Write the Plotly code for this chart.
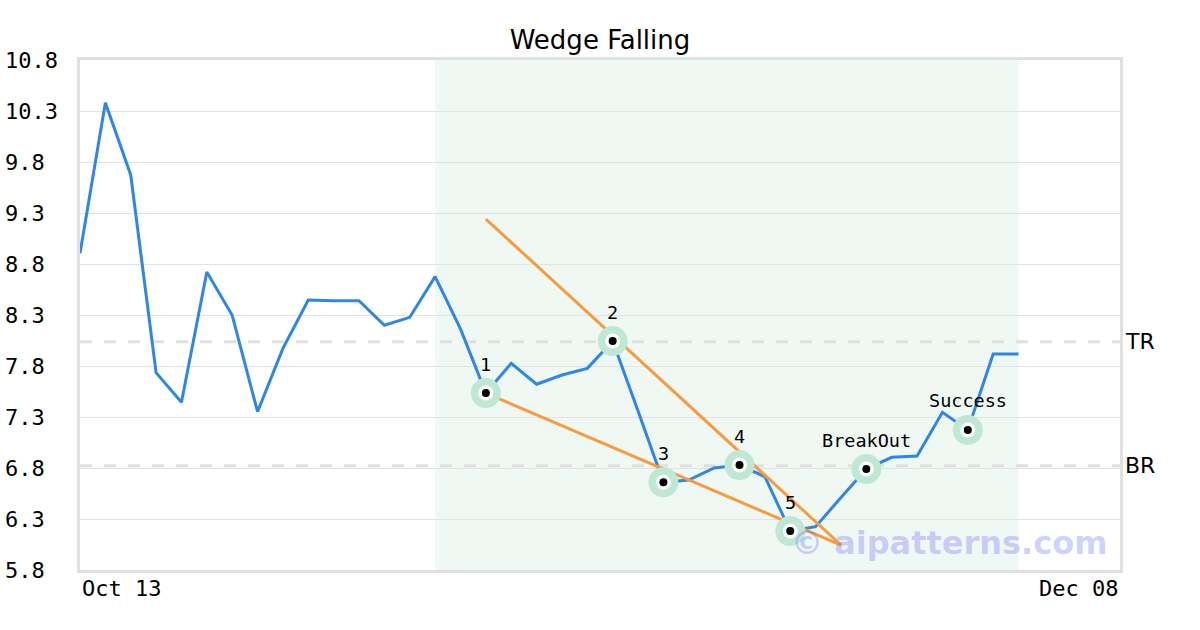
import plotly.graph_objects as go

# ---- data ----
x_start_label = "Oct 13"
x_end_label = "Dec 08"
n_slots = 41  # x axis spans index 0..41

price = [8.905, 10.381, 9.673, 7.734, 7.444, 8.722, 8.297, 7.352, 7.973, 8.447,
         8.440, 8.440, 8.199, 8.277, 8.676, 8.163, 7.535, 7.826, 7.621, 7.712,
         7.777, 8.045, 7.359, 6.660, 6.682, 6.800, 6.829, 6.715, 6.182, 6.225,
         6.510, 6.790, 6.905, 6.918, 7.346, 7.173, 7.918, 7.918]
idx = list(range(len(price)))

pattern_start, pattern_end = 14, 37

upper_x = [16, 30]
upper_y = [9.241, 6.045]
lower_x = [16, 30]
lower_y = [7.535, 6.045]

point_idx = [16, 21, 23, 26, 28, 31, 35]
point_labels = ["1", "2", "3", "4", "5", "BreakOut", "Success"]

tr_level = 8.038
br_level = 6.822

y_ticks = [5.8, 6.3, 6.8, 7.3, 7.8, 8.3, 8.8, 9.3, 9.8, 10.3, 10.8]
y_min, y_max = 5.8, 10.8

MONO = "DejaVu Sans Mono"
SANS = "DejaVu Sans"

fig = go.Figure()

# price line
fig.add_trace(go.Scatter(x=idx, y=price, mode="lines",
                         line=dict(color="#2e86e8", width=3), hoverinfo="skip"))
# wedge lines
fig.add_trace(go.Scatter(x=upper_x, y=upper_y, mode="lines",
                         line=dict(color="#f89a3e", width=3), hoverinfo="skip"))
fig.add_trace(go.Scatter(x=lower_x, y=lower_y, mode="lines",
                         line=dict(color="#f89a3e", width=3), hoverinfo="skip"))

px_ = point_idx
py_ = [price[i] for i in point_idx]
fig.add_trace(go.Scatter(x=px_, y=py_, mode="markers",
                         marker=dict(size=30, color="#bfe8d4", line=dict(width=0)),
                         hoverinfo="skip"))
fig.add_trace(go.Scatter(x=px_, y=py_, mode="markers",
                         marker=dict(size=15, color="white", line=dict(width=0)),
                         hoverinfo="skip"))
fig.add_trace(go.Scatter(x=px_, y=py_, mode="markers",
                         marker=dict(size=8, color="black", line=dict(width=0)),
                         hoverinfo="skip"))

shapes = [
    dict(type="rect", xref="x", yref="paper", x0=pattern_start, x1=pattern_end,
         y0=0, y1=1, fillcolor="#f0f8f4", line=dict(width=0), layer="below"),
    dict(type="line", xref="paper", yref="y", x0=0, x1=1, y0=tr_level, y1=tr_level,
         line=dict(color="#e0e0e0", width=3, dash="12px,12px"), layer="between"),
    dict(type="line", xref="paper", yref="y", x0=0, x1=1, y0=br_level, y1=br_level,
         line=dict(color="#e0e0e0", width=3, dash="12px,12px"), layer="between"),
]

annotations = []
for i, lab in zip(point_idx, point_labels):
    annotations.append(dict(x=i, y=price[i], xref="x", yref="y", text=lab,
                            showarrow=False, yshift=29, yanchor="middle",
                            font=dict(family=MONO, size=18.5, color="black")))
for t in y_ticks:
    annotations.append(dict(x=0, y=t, xref="paper", yref="y", text=f"{t:g}",
                            showarrow=False, xanchor="left", yanchor="middle",
                            xshift=-77, font=dict(family=MONO, size=22, color="black")))
annotations.append(dict(x=0, y=0, xref="paper", yref="paper", text=x_start_label,
                        showarrow=False, xanchor="left", yanchor="middle", yshift=-18,
                        font=dict(family=MONO, size=22, color="black")))
annotations.append(dict(x=1, y=0, xref="paper", yref="paper", text=x_end_label,
                        showarrow=False, xanchor="right", yanchor="middle", yshift=-18,
                        font=dict(family=MONO, size=22, color="black")))
annotations.append(dict(x=1, y=tr_level, xref="paper", yref="y", text="TR",
                        showarrow=False, xanchor="left", yanchor="middle", xshift=3,
                        font=dict(family=SANS, size=22, color="black")))
annotations.append(dict(x=1, y=br_level, xref="paper", yref="y", text="BR",
                        showarrow=False, xanchor="left", yanchor="middle", xshift=3,
                        font=dict(family=SANS, size=22, color="black")))
annotations.append(dict(x=0.99, y=0.053, xref="paper", yref="paper",
                        text="<b>© aipatterns.com</b>", showarrow=False,
                        xanchor="right", yanchor="middle",
                        font=dict(family=SANS, size=32, color="rgba(110,110,255,0.33)")))

fig.update_layout(
    width=1200, height=630,
    margin=dict(l=80, r=80, t=60, b=60),
    paper_bgcolor="white", plot_bgcolor="white",
    showlegend=False,
    title=dict(text="Wedge Falling", x=0.5, xanchor="center", y=1 - 40 / 630,
               yanchor="middle", font=dict(family=SANS, size=26, color="black")),
    xaxis=dict(range=[0, n_slots], showgrid=False, zeroline=False, showticklabels=False,
               ticks="", showline=True, mirror=True, linecolor="#e0e0e0", linewidth=3),
    yaxis=dict(range=[y_min, y_max], tickvals=y_ticks, showticklabels=False, ticks="",
               showgrid=True, gridcolor="#e3e3e3", gridwidth=1, zeroline=False,
               showline=True, mirror=True, linecolor="#e0e0e0", linewidth=3),
    shapes=shapes,
    annotations=annotations,
)

fig.write_html("out.html", config={"displayModeBar": False},
               post_script="document.body.style.margin='0';")
